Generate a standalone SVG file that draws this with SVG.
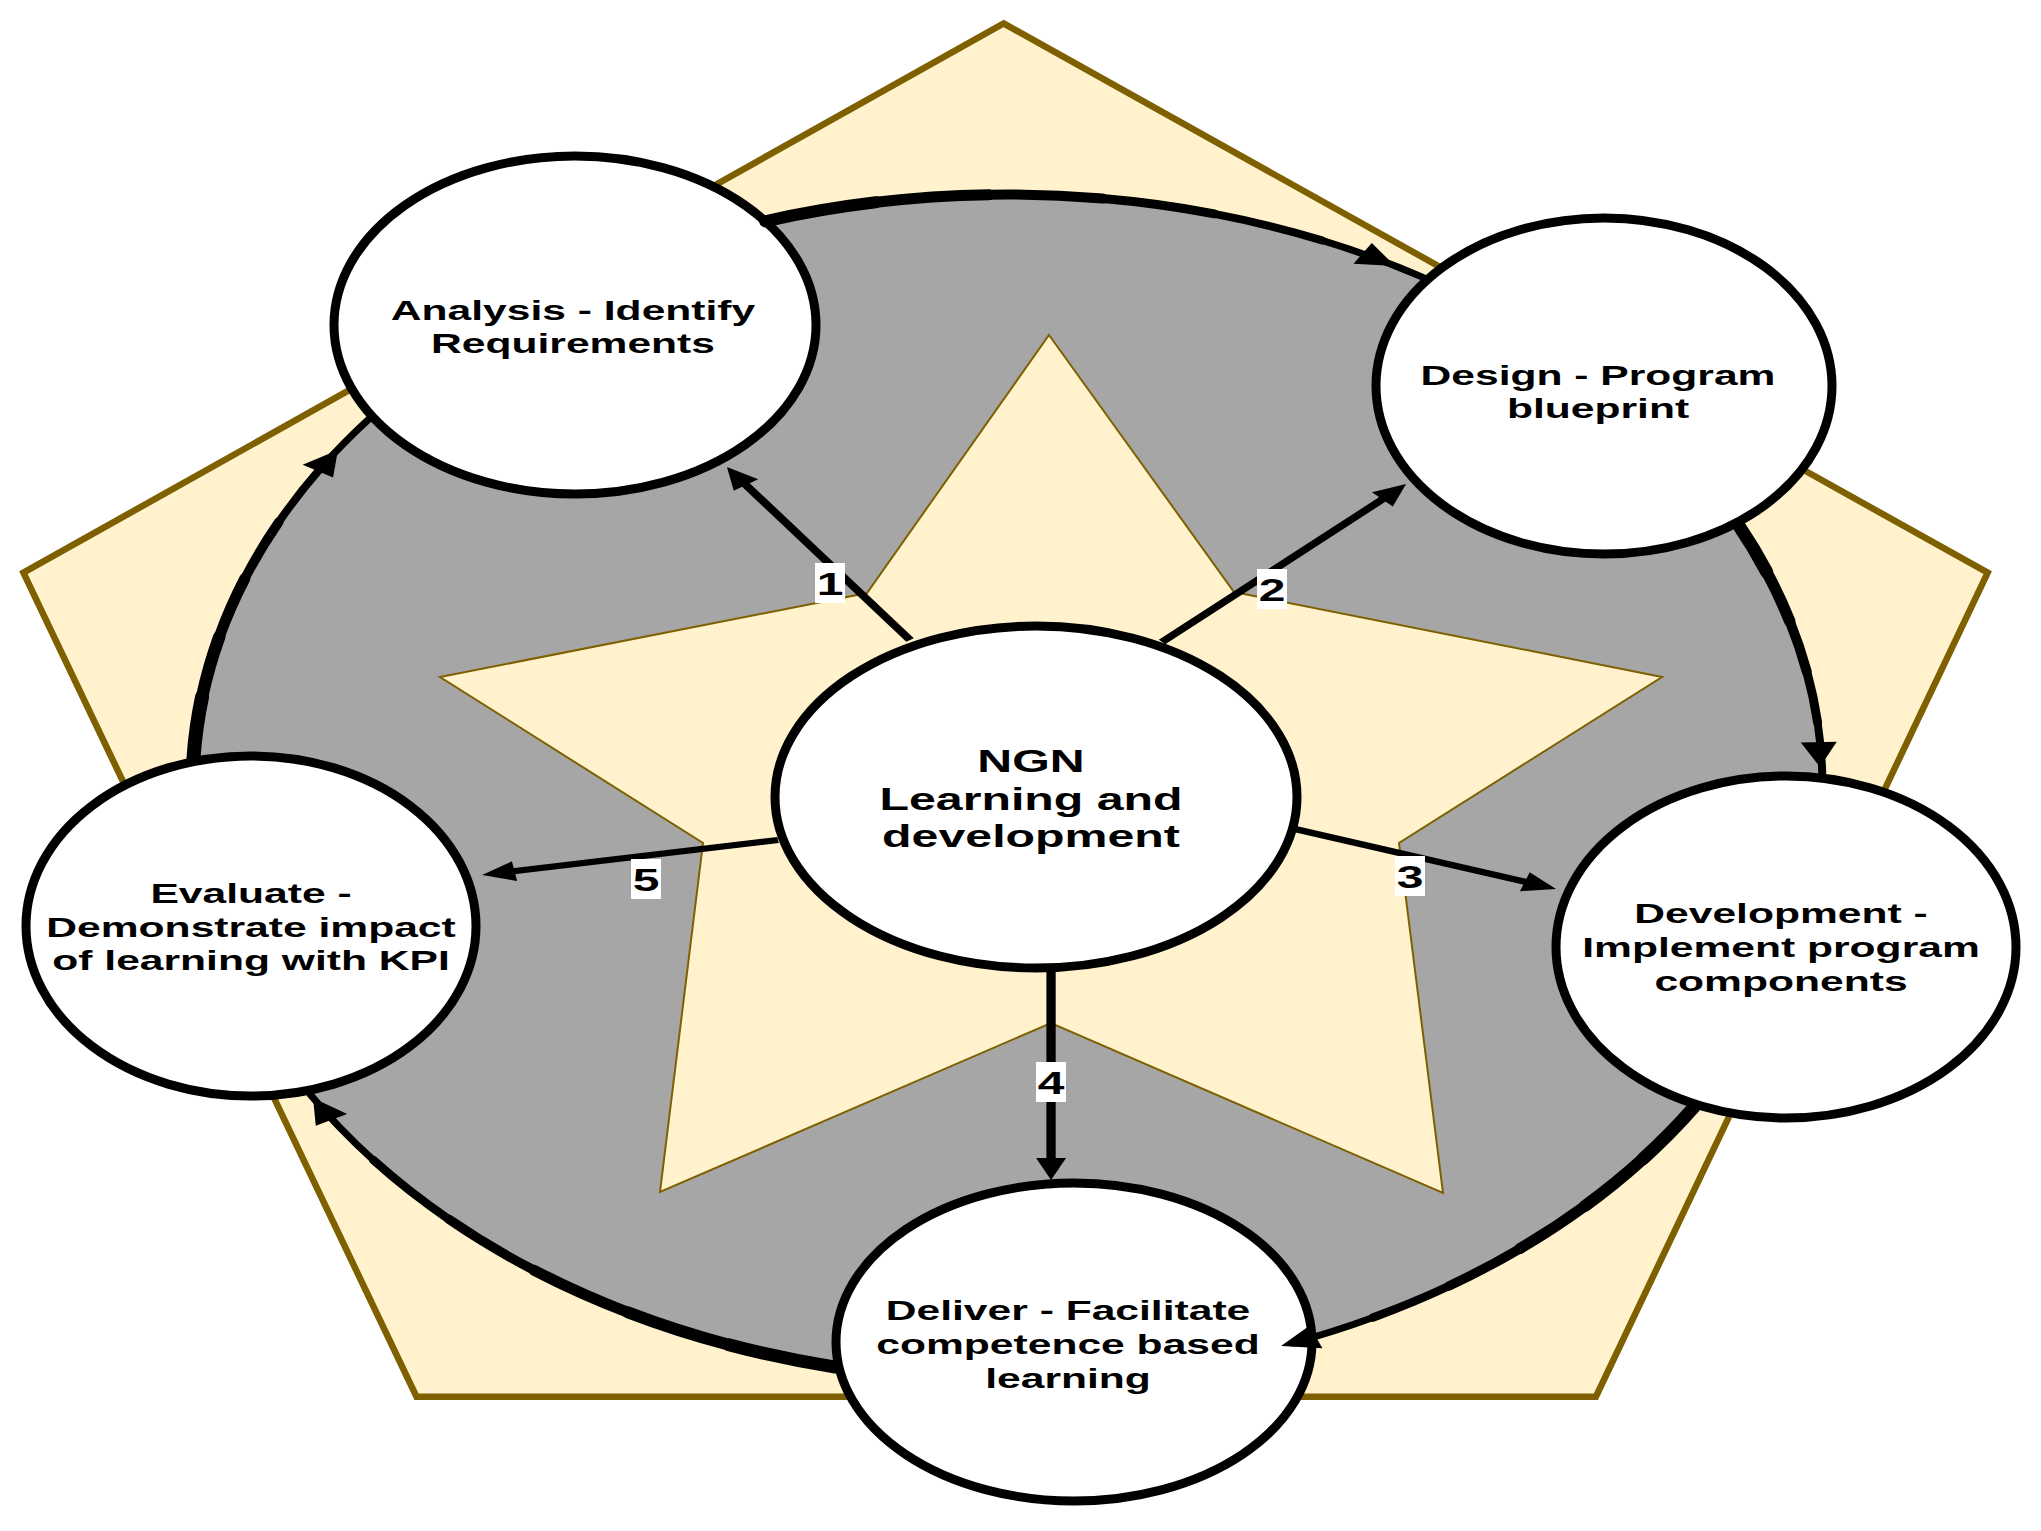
<svg xmlns="http://www.w3.org/2000/svg" xmlns:xlink="http://www.w3.org/1999/xlink" width="2041" height="1531" viewBox="0 0 2041 1531">
<defs>
<style>
.pent{fill:#FFF2CC;stroke:#7F6000;stroke-width:6.5;stroke-linejoin:miter}
.ring{fill:#A6A6A6}
.star{fill:#FFF2CC;stroke:#7F6000;stroke-width:2;stroke-linejoin:miter}
.node{fill:#FFFFFF;stroke:#000000;stroke-width:9}
.t{font-family:"Liberation Sans",Arial,Helvetica,sans-serif;font-weight:bold;fill:#000000;text-anchor:middle;font-size:28.4px}
.tc{font-size:32.2px}
.arc{fill:none;stroke:#000000;stroke-linecap:round}
.ray{fill:none;stroke:#000000;stroke-width:6.2}
.lbl{fill:#FFFFFF}
.num{font-family:"Liberation Sans",Arial,Helvetica,sans-serif;font-weight:bold;font-size:32px;text-anchor:middle;fill:#000000}
</style>
<marker id="ah" markerUnits="userSpaceOnUse" viewBox="-12 -10 22 20" refX="0" refY="0" markerWidth="22" markerHeight="20" orient="auto" overflow="visible">
<path d="M-12,-10 L10,0 L-12,10 z" fill="#000000"/>
</marker>
<polygon id="head" points="0,0 -25,-12 -25,12" fill="#000000"/>
</defs>

<g id="background">
<polygon class="pent" points="1003.6,23.4 1987.7,572.7 1595.9,1396.7 416.5,1396.7 23.4,572.7"/>
<ellipse class="ring" cx="1007.5" cy="787.5" rx="815" ry="593"/>
<polygon class="star" points="1049,335 1234,592 1662,677 1399,843 1443,1193 1051,1023 660,1192 703,843 440,677 867,593"/>
</g>

<g id="node-analysis">
<ellipse class="node" cx="575" cy="325" rx="241" ry="169"/>
<text class="t" transform="translate(573 0) scale(1.5 1)"><tspan x="0" y="320">Analysis - Identify</tspan><tspan x="0" y="353">Requirements</tspan></text>
</g>
<g id="node-design">
<ellipse class="node" cx="1604" cy="386" rx="228" ry="168"/>
<text class="t" transform="translate(1598 0) scale(1.5 1)"><tspan x="0" y="385">Design - Program</tspan><tspan x="0" y="418">blueprint</tspan></text>
</g>
<g id="node-development">
<ellipse class="node" cx="1786" cy="947" rx="230" ry="171"/>
<text class="t" transform="translate(1781 0) scale(1.5 1)"><tspan x="0" y="923">Development -</tspan><tspan x="0" y="957">Implement program</tspan><tspan x="0" y="991">components</tspan></text>
</g>
<g id="node-deliver">
<ellipse class="node" cx="1074" cy="1342" rx="238" ry="159"/>
<text class="t" transform="translate(1068 0) scale(1.5 1)"><tspan x="0" y="1320">Deliver - Facilitate</tspan><tspan x="0" y="1354">competence based</tspan><tspan x="0" y="1388">learning</tspan></text>
</g>
<g id="node-evaluate">
<ellipse class="node" cx="251" cy="926" rx="225" ry="170"/>
<text class="t" transform="translate(251 0) scale(1.5 1)"><tspan x="0" y="903">Evaluate -</tspan><tspan x="0" y="937">Demonstrate impact</tspan><tspan x="0" y="970">of learning with KPI</tspan></text>
</g>
<g id="node-center">
<ellipse class="node" cx="1036" cy="797" rx="261" ry="171"/>
<text class="t tc" transform="translate(1031 0) scale(1.5 1)"><tspan x="0" y="772">NGN</tspan><tspan x="0" y="810">Learning and</tspan><tspan x="0" y="847">development</tspan></text>
</g>

<g id="connectors">
<g id="arc-analysis-design">
<path class="arc" stroke-width="12" d="M765.1,221.3 A815 593 0 0 1 875.8,202.3"/>
<path class="arc" stroke-width="11" d="M875.8,202.3 A815 593 0 0 1 989,194.7"/>
<path class="arc" stroke-width="10" d="M989,194.7 A815 593 0 0 1 1102.6,198.6"/>
<path class="arc" stroke-width="9" d="M1102.6,198.6 A815 593 0 0 1 1214.3,213.9"/>
<path class="arc" stroke-width="8" d="M1214.3,213.9 A815 593 0 0 1 1322,240.4"/>
<path class="arc" stroke-width="7" d="M1322,240.4 A815 593 0 0 1 1423.6,277.6"/>
</g>
<g id="arc-design-development">
<path class="arc" stroke-width="13" d="M1738.2,524.7 A815 593 0 0 1 1766.8,572.1"/>
<path class="arc" stroke-width="11.5" d="M1766.8,572.1 A815 593 0 0 1 1789.7,621.1"/>
<path class="arc" stroke-width="10" d="M1789.7,621.1 A815 593 0 0 1 1806.7,671.3"/>
<path class="arc" stroke-width="9" d="M1806.7,671.3 A815 593 0 0 1 1817.6,722.4"/>
<path class="arc" stroke-width="8" d="M1817.6,722.4 A815 593 0 0 1 1822.3,775.1"/>
</g>
<g id="arc-development-deliver">
<path class="arc" stroke-width="13" d="M1694.1,1107 A815 593 0 0 1 1643.1,1158.7"/>
<path class="arc" stroke-width="12" d="M1643.1,1158.7 A815 593 0 0 1 1584.8,1206.1"/>
<path class="arc" stroke-width="11" d="M1584.8,1206.1 A815 593 0 0 1 1519.6,1248.8"/>
<path class="arc" stroke-width="9.5" d="M1519.6,1248.8 A815 593 0 0 1 1449,1286"/>
<path class="arc" stroke-width="8.5" d="M1449,1286 A815 593 0 0 1 1373,1317.5"/>
<path class="arc" stroke-width="7" d="M1373,1317.5 A815 593 0 0 1 1292.9,1343"/>
</g>
<g id="arc-deliver-evaluate">
<path class="arc" stroke-width="13" d="M835.3,1367.1 A815 593 0 0 1 728.8,1344.7"/>
<path class="arc" stroke-width="12" d="M728.8,1344.7 A815 593 0 0 1 628,1312.3"/>
<path class="arc" stroke-width="11" d="M628,1312.3 A815 593 0 0 1 534.2,1270.3"/>
<path class="arc" stroke-width="9.5" d="M534.2,1270.3 A815 593 0 0 1 449.1,1219.4"/>
<path class="arc" stroke-width="8.5" d="M449.1,1219.4 A815 593 0 0 1 373.2,1159.9"/>
<path class="arc" stroke-width="7" d="M373.2,1159.9 A815 593 0 0 1 310,1094.3"/>
</g>
<g id="arc-evaluate-analysis">
<path class="arc" stroke-width="14" d="M193.5,758 A815 593 0 0 1 202.1,696.8"/>
<path class="arc" stroke-width="12.5" d="M202.1,696.8 A815 593 0 0 1 219.2,637"/>
<path class="arc" stroke-width="11" d="M219.2,637 A815 593 0 0 1 244.9,578.4"/>
<path class="arc" stroke-width="9.5" d="M244.9,578.4 A815 593 0 0 1 278.8,522"/>
<path class="arc" stroke-width="8" d="M278.8,522 A815 593 0 0 1 320.5,468.4"/>
<path class="arc" stroke-width="7" d="M320.5,468.4 A815 593 0 0 1 369.7,418.4"/>
</g>
<g transform="scale(1.5 1)">
<use xlink:href="#head" href="#head" transform="translate(930 266) rotate(30.5)"/>
<use xlink:href="#head" href="#head" transform="translate(1213.3 767) rotate(88.2)"/>
<use xlink:href="#head" href="#head" transform="translate(854 1346) rotate(158.8)"/>
<use xlink:href="#head" href="#head" transform="translate(208.7 1098) rotate(-119.4)"/>
<use xlink:href="#head" href="#head" transform="translate(225.3 450) rotate(-57.6)"/>
<path class="ray" marker-end="url(#ah)" d="M606.7,640 L490.4,475.2"/>
<path class="ray" marker-end="url(#ah)" d="M774.7,642 L930.2,491"/>
<path class="ray" marker-end="url(#ah)" d="M863.3,829 L1027.9,885.7"/>
<path class="ray" marker-end="url(#ah)" d="M700.7,972 L700.7,1170"/>
<path class="ray" marker-end="url(#ah)" d="M518.7,840 L331.2,873.3"/>
</g>
<g transform="translate(830 583)"><rect class="lbl" x="-15" y="-20" width="30" height="40"/><text class="num" transform="scale(1.5 1)" y="11.5">1</text></g>
<g transform="translate(1272 589)"><rect class="lbl" x="-15" y="-20" width="30" height="40"/><text class="num" transform="scale(1.5 1)" y="11.5">2</text></g>
<g transform="translate(1410 876)"><rect class="lbl" x="-15" y="-20" width="30" height="40"/><text class="num" transform="scale(1.5 1)" y="11.5">3</text></g>
<g transform="translate(1051 1082)"><rect class="lbl" x="-15" y="-20" width="30" height="40"/><text class="num" transform="scale(1.5 1)" y="11.5">4</text></g>
<g transform="translate(646 879)"><rect class="lbl" x="-15" y="-20" width="30" height="40"/><text class="num" transform="scale(1.5 1)" y="11.5">5</text></g>
</g>
</svg>
